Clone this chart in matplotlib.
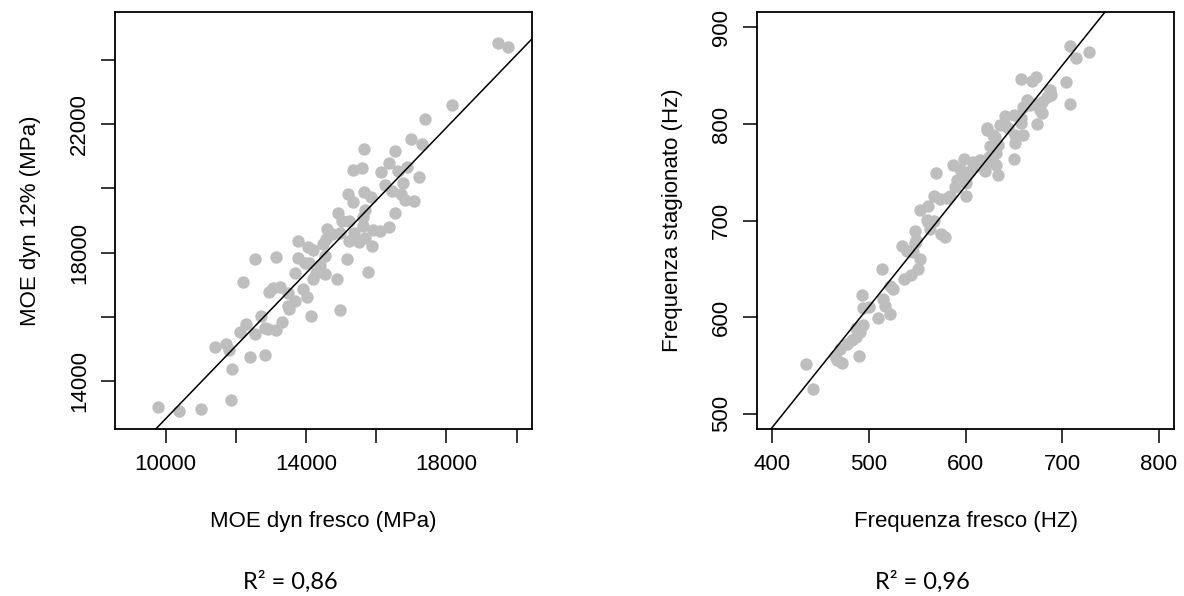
import matplotlib.pyplot as plt
import numpy as np

# MOE dinamico (MPa): fresco vs stagionato al 12%
moe_fresco = [9780, 10370, 11020, 11870, 11900, 11420, 11730, 11820, 12410, 12830,
              12110, 12280, 12540, 12730, 12820, 12910, 13150, 13320, 14130, 14960,
              12220, 12540, 13150, 13780, 13960, 13680, 12940, 13060, 13270, 13480,
              13910, 14040, 13700, 13480, 13530, 14200, 14530, 14880, 15760, 14290,
              15170, 14100, 14550, 13760, 14070, 14200, 14390, 14580, 14480, 14610,
              14750, 14960, 15040, 15240, 14900, 15360, 15240, 15500, 15670, 15880,
              15620, 15910, 16100, 16360, 15340, 15190, 15640, 15860, 15670, 15620,
              16550, 16240, 16760, 16460, 16720, 16810, 17090, 16150, 16380, 16620,
              16890, 17230, 15340, 15590, 15660, 16550, 16990, 17310, 17390, 18160,
              19470, 19750]
moe_12 = [13200, 13080, 13150, 13410, 14400, 15080, 15150, 14990, 14770, 14810,
          15530, 15770, 15460, 16030, 15670, 15620, 15590, 15840, 16020, 16210,
          17080, 17810, 17870, 17840, 17690, 17380, 16770, 16910, 16940, 16760,
          16880, 16630, 16490, 16340, 16240, 17190, 17350, 17170, 17390, 17380,
          17790, 17690, 17890, 18370, 18180, 18080, 17630, 18410, 18260, 18750,
          18570, 18620, 18980, 18980, 19220, 18620, 18360, 18330, 18460, 18210,
          18820, 18720, 18670, 18810, 19560, 19810, 19890, 19740, 19330, 19120,
          19220, 20090, 20150, 19930, 19810, 19630, 19620, 20510, 20800, 20530,
          20650, 20350, 20580, 20620, 21220, 21150, 21520, 21380, 22140, 22600,
          24520, 24380]

# frequenze (Hz): fresco vs stagionato
freq_fresco = [435, 442, 465, 470, 472, 467, 477, 482, 487, 491, 494, 487, 490, 493,
               494, 500, 509, 513, 515, 517, 522, 525, 522, 534, 536, 544, 539, 548,
               551, 553, 546, 548, 561, 549, 575, 579, 560, 567, 563, 553, 561, 567,
               574, 581, 584, 569, 587, 598, 591, 594, 600, 601, 600, 589, 605, 612,
               608, 615, 620, 619, 629, 632, 634, 625, 631, 622, 650, 651, 634, 632,
               624, 629, 617, 622, 629, 636, 641, 644, 641, 650, 657, 658, 660, 674,
               677, 679, 664, 660, 667, 672, 679, 688, 689, 684, 708, 704, 657, 669,
               673, 708, 714, 728, 651]
freq_stag = [551, 525, 560, 567, 552, 555, 572, 576, 579, 584, 592, 589, 560, 623,
             609, 610, 599, 650, 619, 611, 603, 629, 632, 674, 639, 644, 668, 689,
             650, 660, 667, 677, 698, 680, 686, 683, 701, 699, 691, 711, 715, 725,
             722, 723, 725, 749, 758, 764, 742, 753, 739, 746, 725, 735, 751, 756,
             761, 763, 751, 758, 768, 758, 747, 777, 787, 794, 764, 780, 778, 770,
             766, 761, 761, 796, 789, 799, 799, 796, 808, 809, 806, 801, 789, 800,
             814, 811, 825, 818, 820, 821, 823, 835, 830, 828, 821, 844, 847, 845,
             849, 881, 868, 875, 789]

moe_xticks = [10000, 12000, 14000, 16000, 18000, 20000]
moe_xlabels = ["10000", "", "14000", "", "18000", ""]
moe_yticks = [14000, 16000, 18000, 20000, 22000, 24000]
moe_ylabels = ["14000", "", "18000", "", "22000", ""]
freq_xticks = [400, 500, 600, 700, 800]
freq_yticks = [500, 600, 700, 800, 900]

plt.rcParams['font.family'] = ['Liberation Sans', 'DejaVu Sans']

W, H = 1184, 596
fig = plt.figure(figsize=(W / 100, H / 100), dpi=100)


def r_style_panel(rect, x, y, xlim, ylim, xticks, xlabels, yticks, ylabels,
                  xlabel, ylabel):
    # rect in pixels: left, top, right, bottom
    l, t, r, b = rect
    ax = fig.add_axes([l / W, 1 - b / H, (r - l) / W, (b - t) / H])
    ax.scatter(x, y, s=80, color='#bebebe', linewidths=0, zorder=2)
    slope, icpt = np.polyfit(x, y, 1)
    ax.axline((np.mean(x), slope * np.mean(x) + icpt), slope=slope,
              color='black', lw=1.1, zorder=3)
    ax.set_xlim(*xlim)
    ax.set_ylim(*ylim)
    ax.set_xticks(xticks)
    ax.set_xticklabels(xlabels, fontsize=16)
    ax.set_yticks(yticks)
    ax.set_yticklabels(ylabels, fontsize=16, rotation=90, va='center')
    ax.tick_params(length=10, width=1.1, pad=8, color='black')
    for sp in ax.spines.values():
        sp.set_linewidth(1.3)
    ax.set_xlabel(xlabel, fontsize=16, labelpad=26)
    ax.set_ylabel(ylabel, fontsize=16, labelpad=20)
    return ax


r_style_panel((115, 12, 532, 429), moe_fresco, moe_12,
              (8560, 20440), (12520, 25480),
              moe_xticks, moe_xlabels, moe_yticks, moe_ylabels,
              "MOE dyn fresco (MPa)", "MOE dyn 12% (MPa)")

r_style_panel((757, 12, 1174, 429), freq_fresco, freq_stag,
              (384, 816), (484, 916),
              freq_xticks, [str(v) for v in freq_xticks],
              freq_yticks, [str(v) for v in freq_yticks],
              "Frequenza fresco (HZ)", "Frequenza stagionato (Hz)")

fig.text(290 / W, 1 - 582 / H, "R\u00b2 = 0,86", fontsize=17, family='Lato',
         ha='center', va='center')
fig.text(922 / W, 1 - 582 / H, "R\u00b2 = 0,96", fontsize=17, family='Lato',
         ha='center', va='center')

fig.savefig("out.png", dpi=100)
